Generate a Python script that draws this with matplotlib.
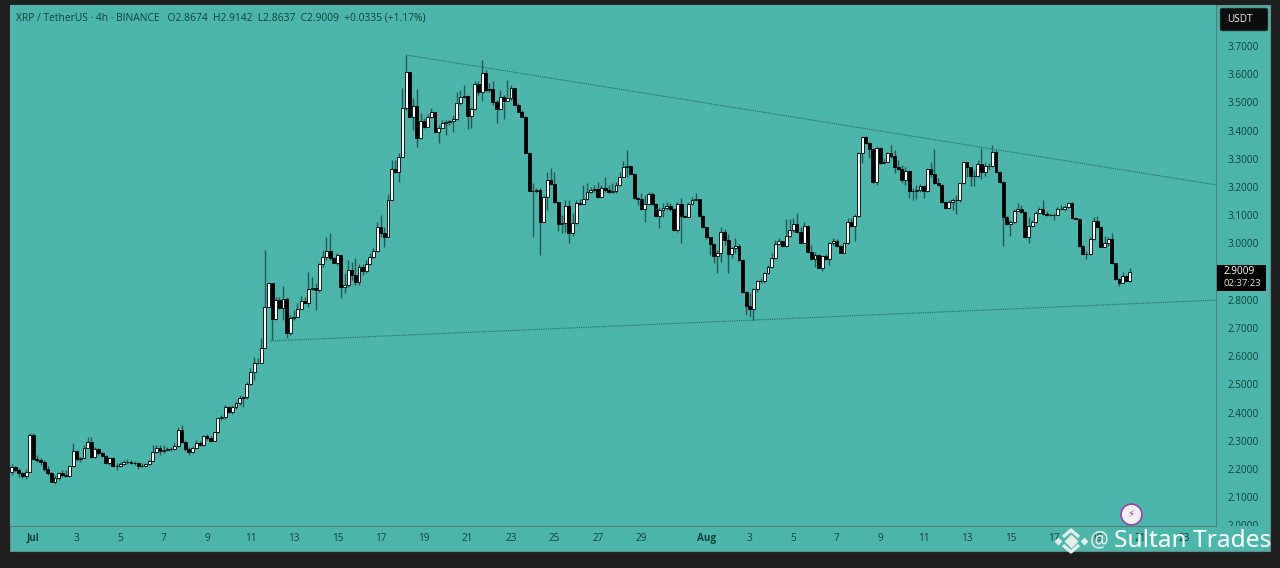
import matplotlib
matplotlib.use("Agg")
import matplotlib.pyplot as plt
from matplotlib.patches import Rectangle, FancyBboxPatch
import numpy as np

# 4h candles, first one is 6 candles before Jul 1
first_open = 2.189
closes = [
    2.206,2.196,2.185,2.175,2.191,2.321,2.235,2.232,2.224,2.200,2.187,2.155,2.169,2.185,2.179,2.175,2.211,2.263,2.234,2.240,
    2.276,2.295,2.241,2.270,2.256,2.246,2.220,2.238,2.212,2.211,2.219,2.224,2.226,2.222,2.221,2.212,2.211,2.218,2.228,2.261,
    2.274,2.263,2.269,2.270,2.271,2.283,2.338,2.297,2.270,2.261,2.276,2.293,2.285,2.318,2.309,2.300,2.330,2.380,2.383,2.419,
    2.403,2.419,2.435,2.453,2.456,2.500,
    2.545,2.575,2.577,2.628,
    2.773,2.858,2.731,2.799,2.770,2.802,2.681,2.734,2.740,2.769,2.796,2.788,2.837,2.843,2.835,2.927,2.953,2.974,2.947,2.932,
    2.959,2.847,2.853,2.906,2.888,2.862,2.917,2.902,2.927,2.951,2.974,3.057,3.038,3.024,3.154,3.263,3.252,3.305,3.479,3.607,
    3.449,3.488,3.373,3.432,3.412,3.447,3.464,3.393,3.408,3.428,3.429,3.432,3.440,3.497,3.518,3.523,3.453,3.477,3.564,3.535,
    3.603,3.544,3.548,3.500,3.475,3.520,3.506,3.514,3.550,3.491,3.467,3.449,3.322,3.184,3.187,3.189,3.075,3.166,3.225,3.209,
    3.146,3.069,
    3.073,3.133,3.038,3.071,3.142,3.140,3.156,3.183,3.189,3.192,3.166,3.195,3.189,3.181,3.186,3.207,3.237,3.269,3.274,3.245,
    3.160,3.157,3.122,3.140,3.175,3.139,3.098,3.118,3.124,3.133,3.121,3.048,3.140,3.097,3.095,3.140,3.154,3.156,3.098,3.057,
    3.022,2.997,2.955,2.967,3.042,3.012,2.961,2.983,2.992,2.941,2.829,2.778,2.766,2.837,2.867,2.868,2.896,2.915,2.947,2.997,
    3.010,2.992,3.027,3.048,3.069,3.042,3.003,3.063,2.968,2.945,2.959,2.914,2.955,2.945,3.003,3.010,2.991,2.967,3.000,3.077,
    3.062,3.097,3.319,
    3.376,3.355,3.335,3.219,3.337,3.284,3.290,3.319,3.308,3.272,3.264,3.225,3.257,3.187,3.187,3.189,3.205,3.186,3.264,3.245,
    3.213,3.206,3.148,3.127,3.146,3.153,3.154,3.213,3.287,3.269,3.240,3.239,3.282,3.254,3.274,3.276,3.325,3.254,3.219,3.095,
    3.068,3.075,3.116,3.121,3.110,3.024,3.063,3.076,3.107,3.122,3.103,3.102,3.101,3.102,3.121,3.123,3.128,3.142,3.089,3.088,
    2.991,2.961,2.962,3.016,3.079,3.059,2.988,3.000,3.014,2.929,2.874,2.858,2.884,2.867,2.900,
]
highs = [
    2.218,2.211,2.202,2.191,2.199,2.329,2.326,2.250,2.238,2.232,2.211,2.191,2.179,2.191,2.196,2.196,2.214,2.291,2.265,2.244,
    2.285,2.312,2.315,2.279,2.273,2.261,2.250,2.241,2.241,2.220,2.226,2.232,2.234,2.232,2.230,2.226,2.220,2.222,2.232,2.285,
    2.285,2.285,2.285,2.279,2.279,2.291,2.350,2.356,2.303,2.279,2.282,2.303,2.299,2.321,2.324,2.317,2.332,2.386,2.392,2.427,
    2.423,2.427,2.442,2.462,2.460,2.510,
    2.557,2.598,2.592,2.663,
    2.977,2.864,2.858,2.811,2.811,2.849,2.811,2.746,2.764,2.788,2.814,2.811,2.897,2.880,2.858,2.929,2.977,3.024,3.038,2.953,
    2.965,2.959,2.894,2.941,2.935,2.947,2.927,2.927,2.941,2.965,2.983,3.077,3.101,3.059,3.175,3.296,3.296,3.319,3.550,3.668,
    3.609,3.514,3.546,3.461,3.444,3.459,3.479,3.467,3.420,3.438,3.438,3.438,3.455,3.538,3.544,3.562,3.526,3.485,3.574,3.574,
    3.650,3.615,3.568,3.574,3.509,3.544,3.526,3.579,3.562,3.552,3.497,3.473,3.452,3.325,3.213,3.195,3.195,3.172,3.254,3.266,
    3.254,3.148,
    3.101,3.152,3.152,3.107,3.152,3.156,3.207,3.213,3.201,3.207,3.219,3.207,3.237,3.207,3.213,3.219,3.254,3.293,3.331,3.278,
    3.248,3.166,3.177,3.172,3.183,3.183,3.142,3.124,3.144,3.148,3.144,3.124,3.148,3.160,3.101,3.148,3.166,3.177,3.156,3.101,
    3.059,3.024,3.000,2.977,3.057,3.050,3.033,2.988,3.018,2.998,2.943,2.831,2.823,2.841,2.870,2.876,2.900,2.923,2.965,3.012,
    3.018,3.012,3.085,3.085,3.089,3.109,3.059,3.077,3.065,2.994,2.971,2.962,2.959,2.962,3.006,3.018,3.014,2.994,3.006,3.089,
    3.089,3.104,3.325,
    3.378,3.381,3.358,3.339,3.345,3.341,3.298,3.325,3.349,3.331,3.296,3.278,3.272,3.260,3.195,3.207,3.211,3.207,3.266,3.287,
    3.334,3.231,3.209,3.150,3.154,3.160,3.172,3.215,3.290,3.290,3.272,3.260,3.296,3.337,3.286,3.284,3.349,3.331,3.257,3.221,
    3.097,3.083,3.121,3.142,3.136,3.113,3.095,3.083,3.113,3.128,3.154,3.113,3.107,3.109,3.128,3.136,3.136,3.148,3.148,3.095,
    3.090,2.993,2.974,3.022,3.095,3.097,3.062,3.026,3.024,3.038,2.932,2.876,2.900,2.888,2.912,
]
lows = [
    2.179,2.191,2.173,2.167,2.163,2.191,2.232,2.226,2.214,2.194,2.179,2.155,2.147,2.161,2.173,2.170,2.170,2.208,2.230,2.226,
    2.238,2.273,2.240,2.238,2.250,2.241,2.217,2.214,2.206,2.196,2.206,2.214,2.218,2.218,2.214,2.200,2.208,2.211,2.214,2.226,
    2.258,2.250,2.258,2.265,2.265,2.267,2.279,2.291,2.265,2.250,2.258,2.272,2.281,2.281,2.303,2.297,2.299,2.326,2.374,2.376,
    2.397,2.395,2.412,2.427,2.421,2.447,
    2.498,2.516,2.572,2.575,
    2.628,2.773,2.657,2.728,2.766,2.728,2.663,2.675,2.728,2.740,2.766,2.788,2.776,2.835,2.764,2.829,2.917,2.941,2.941,2.929,
    2.923,2.805,2.823,2.847,2.870,2.853,2.853,2.888,2.894,2.923,2.947,2.971,3.024,2.988,3.024,3.152,3.249,3.219,3.308,3.473,
    3.447,3.402,3.343,3.369,3.408,3.412,3.444,3.390,3.357,3.408,3.384,3.420,3.396,3.438,3.491,3.514,3.405,3.408,3.473,3.526,
    3.503,3.538,3.538,3.491,3.426,3.473,3.440,3.509,3.509,3.491,3.464,3.447,3.319,3.225,3.024,3.178,2.959,3.074,3.118,3.207,
    3.142,3.045,
    3.036,3.042,3.000,3.026,3.069,3.136,3.140,3.154,3.177,3.183,3.162,3.160,3.183,3.177,3.177,3.180,3.203,3.234,3.237,3.242,
    3.156,3.136,3.118,3.077,3.136,3.136,3.092,3.053,3.095,3.118,3.116,3.044,3.042,3.003,3.092,3.092,3.140,3.152,3.095,3.053,
    3.014,2.959,2.929,2.894,2.935,2.994,2.896,2.947,2.965,2.939,2.825,2.746,2.738,2.728,2.829,2.861,2.861,2.891,2.912,2.943,
    2.994,2.988,2.988,3.024,3.042,3.036,3.000,3.000,2.965,2.941,2.915,2.912,2.903,2.941,2.923,2.994,2.986,2.965,2.965,2.998,
    3.059,3.010,3.095,
    3.284,3.352,3.302,3.213,3.207,3.281,3.284,3.290,3.304,3.248,3.260,3.213,3.207,3.160,3.154,3.156,3.183,3.160,3.183,3.237,
    3.211,3.203,3.144,3.124,3.124,3.118,3.104,3.148,3.209,3.237,3.203,3.203,3.237,3.227,3.239,3.260,3.272,3.251,3.213,2.991,
    3.065,3.026,3.071,3.116,3.107,3.018,3.003,3.059,3.073,3.104,3.100,3.097,3.097,3.083,3.101,3.118,3.116,3.124,3.085,3.085,
    2.988,2.959,2.943,2.959,3.012,3.056,2.986,2.986,2.991,2.927,2.870,2.850,2.858,2.864,2.864,
]

price_ticks = [2.0,2.1,2.2,2.3,2.4,2.5,2.6,2.7,2.8,3.0,3.1,3.2,3.3,3.4,3.5,3.6,3.7]
date_ticks = [0,12,24,36,48,60,72,84,96,108,120,132,144,156,168,186,198,210,222,234,246,258,270,282,294,306,318]
date_labels = ["Jul","3","5","7","9","11","13","15","17","19","21","23","25","27","29","Aug","3","5","7","9","11","13","15","17","19","21","23"]

# trendlines, (candle number, price)
upper_x, upper_y = [103, 327], [3.668, 3.207]
lower_x, lower_y = [65.5, 327], [2.654, 2.799]

TEAL = "#4db6ac"
DARK = "#1e1e1e"
INK = "#12403b"
W, H = 1280, 568

plt.rcParams["font.family"] = ["Open Sans", "DejaVu Sans"]
fig = plt.figure(figsize=(12.8, 5.68), dpi=100, facecolor=DARK)
fig.add_artist(Rectangle((10/W, 1-551/H), 1260/W, 546/H, transform=fig.transFigure, fc=TEAL, ec="#5f8f8a", lw=0.8, zorder=-5))

ax = fig.add_axes([10/W, 1-526/H, 1206/W, 521/H], facecolor=TEAL)
ax.set_xlim(-6.44, 326.8)
ax.set_ylim(1.998, 3.845)

n = len(closes)
k = np.arange(n) - 6
c = np.array(closes)
o = np.r_[first_open, c[:-1]]
ax.vlines(k, lows, highs, color="#1f5a54", lw=1.0, zorder=2)
up = c >= o
ax.bar(k, np.abs(c-o), bottom=np.minimum(c, o), width=0.8, color=np.where(up, "white", "black"),
       edgecolor="black", lw=0.6, zorder=3)

ax.plot(upper_x, upper_y, color="#2b6660", lw=0.8, ls=(0, (1, 1)), zorder=1)
ax.plot(lower_x, lower_y, color="#2b6660", lw=0.8, ls=(0, (1, 1)), zorder=1)

for s in ["top", "left"]:
    ax.spines[s].set_visible(False)
ax.spines["right"].set_color("#4f7f7a")
ax.spines["bottom"].set_color("#4f7f7a")

ax.yaxis.tick_right()
ax.set_yticks(price_ticks)
ax.set_yticklabels(["%.4f" % p for p in price_ticks])
ax.set_xticks(date_ticks)
ax.set_xticklabels(date_labels)
ax.tick_params(axis="y", length=0, pad=8, labelsize=7.2, labelcolor=INK)
ax.tick_params(axis="x", length=0, pad=5, labelsize=7.2, labelcolor=INK)
for lab in ax.get_xticklabels():
    if lab.get_text() in ("Jul", "Aug"):
        lab.set_fontweight("bold")
# the 2.0000 label is cut by the time axis
clip = Rectangle((0, 1-526/H), 1, 526/H, transform=fig.transFigure)
ax.get_yticklabels()[0].set_clip_path(clip)
ax.get_yticklabels()[0].set_clip_on(True)

# everything else in picture pixels
ov = fig.add_axes([0, 0, 1, 1], facecolor="none")
ov.set_xlim(0, W)
ov.set_ylim(H, 0)
ov.axis("off")

ov.text(16, 18, "XRP / TetherUS · 4h · BINANCE   O2.8674  H2.9142  L2.8637  C2.9009  +0.0335 (+1.17%)",
        fontsize=7.4, color=INK, va="center")

ov.add_patch(FancyBboxPatch((1220, 8), 48, 23, boxstyle="round,pad=0,rounding_size=2", fc="#0c0c0c", ec="#3a6a65", lw=0.5))
ov.text(1240, 19.5, "USDT", color="#e8e8e8", fontsize=7.2, ha="center", va="center")

ov.add_patch(Rectangle((1217, 265), 49, 26, fc="black", ec="none"))
ov.text(1224, 272, "2.9009", color="white", fontsize=7.2, va="center")
ov.text(1224, 283.5, "02:37:23", color="#e0e0e0", fontsize=6.8, va="center")

ov.plot([1131], [514], marker="o", ms=15, mfc="#f4f0f6", mec="#9c3fa8", mew=1.2)
ov.text(1131, 514, "\u26a1", color="#9c3fa8", fontsize=7.5, ha="center", va="center", family="DejaVu Sans")

# binance logo: centre and side diamonds, chevrons above and below
logo_x = [1071, 1058, 1084]
logo_y = [541, 541, 541]
logo_s = [7, 4.5, 4.5]
for lx, ly, ls in zip(logo_x, logo_y, logo_s):
    ov.plot([lx], [ly], marker="D", ms=ls, color="#e6ecea", mec="none")
ov.plot([1063, 1071, 1079], [537, 530, 537], color="#e6ecea", lw=2.4, solid_capstyle="butt")
ov.plot([1063, 1071, 1079], [545, 552, 545], color="#e6ecea", lw=2.4, solid_capstyle="butt")
ov.text(1090, 541, "@", color="#e4ecea", fontsize=15, va="center", family="Noto Sans")
ov.text(1114, 541, "Sultan Trades", color="white", fontsize=17.6, va="center", family="Noto Sans")

fig.savefig("out.png", dpi=100, facecolor=DARK)
